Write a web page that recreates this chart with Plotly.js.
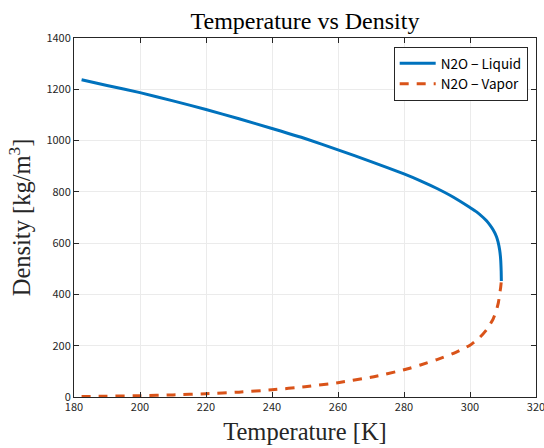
<!DOCTYPE html>
<html>
<head>
<meta charset="utf-8">
<script src="https://cdn.plot.ly/plotly-3.0.1.min.js"></script>
<style>html,body{margin:0;padding:0;background:#fff;}#chart{width:544px;height:448px;}</style>
</head>
<body>
<div id="chart"></div>
<script>
const liquidT = [182.3, 190, 200, 210, 220, 230, 240, 250, 260, 270, 280, 285, 290, 295, 300, 302, 304, 305, 306, 307, 308, 308.5, 309, 309.3, 309.45, 309.5];
const liquidRho = [1237, 1215, 1187, 1155, 1121, 1085, 1047, 1008, 964, 918, 870, 843, 813, 779, 739, 722, 700, 687, 671, 652, 626, 605, 572, 535, 490, 452];
const vaporT = [182.3, 190, 200, 210, 220, 230, 240, 250, 260, 270, 280, 285, 290, 295, 300, 303, 305, 307, 308, 308.6, 309, 309.3, 309.5];
const vaporRho = [2, 3, 5, 8, 13, 19, 28, 40, 56, 77, 106, 125, 146, 170, 202, 233, 262, 304, 338, 368, 402, 428, 452];
const xTicks = [180, 200, 220, 240, 260, 280, 300, 320];
const yTicks = [0, 200, 400, 600, 800, 1000, 1200, 1400];

const traces = [
  {x: liquidT, y: liquidRho, type: 'scatter', mode: 'lines', name: 'N2O\u00a0− Liquid',
   line: {color: '#0072BD', width: 3, shape: 'spline', smoothing: 0.5}},
  {x: vaporT, y: vaporRho, type: 'scatter', mode: 'lines', name: 'N2O\u00a0− Vapor',
   line: {color: '#D95319', width: 3, dash: '9px,8px', shape: 'spline', smoothing: 0.5}}
];

const serif = 'Liberation Serif, Times New Roman, serif';
const sans = 'Noto Sans CJK JP, DejaVu Sans, sans-serif';

const axisCommon = {
  showline: true, linecolor: '#262626', linewidth: 1, mirror: 'ticks',
  ticks: 'inside', ticklen: 5, tickcolor: '#262626',
  showgrid: true, gridcolor: '#ebebeb', gridwidth: 1, zeroline: false,
  ticklabeloverflow: 'allow',
  tickfont: {family: sans, size: 11, color: '#262626'}
};

const layout = {
  width: 544, height: 448,
  margin: {l: 74, r: 8, t: 38, b: 51},
  paper_bgcolor: '#fff', plot_bgcolor: '#fff',
  title: {text: 'Temperature vs Density', xref: 'paper', x: 0.5, xanchor: 'center', y: 0.953, yanchor: 'middle',
          font: {family: serif, size: 24, color: '#000'}},
  xaxis: Object.assign({}, axisCommon, {
    range: [180, 320], tickvals: xTicks, ticktext: xTicks.map(String),
    title: {text: 'Temperature [K]', standoff: 9,
            font: {family: serif, size: 24.5, color: '#262626'}}
  }),
  yaxis: Object.assign({}, axisCommon, {
    range: [0, 1400], tickvals: yTicks, ticktext: yTicks.map(String),
    title: {text: 'Density [kg/m<sup>3</sup>]', standoff: 8,
            font: {family: serif, size: 24.5, color: '#262626'}}
  }),
  legend: {x: 0.982, xanchor: 'right', y: 0.975, yanchor: 'top',
           bgcolor: '#fff', bordercolor: '#262626', borderwidth: 1,
           font: {family: sans, size: 13.5, color: '#000'},
           tracegroupgap: 0, itemwidth: 36},
  showlegend: true
};

Plotly.newPlot('chart', traces, layout, {displayModeBar: false, staticPlot: true});
</script>
</body>
</html>
